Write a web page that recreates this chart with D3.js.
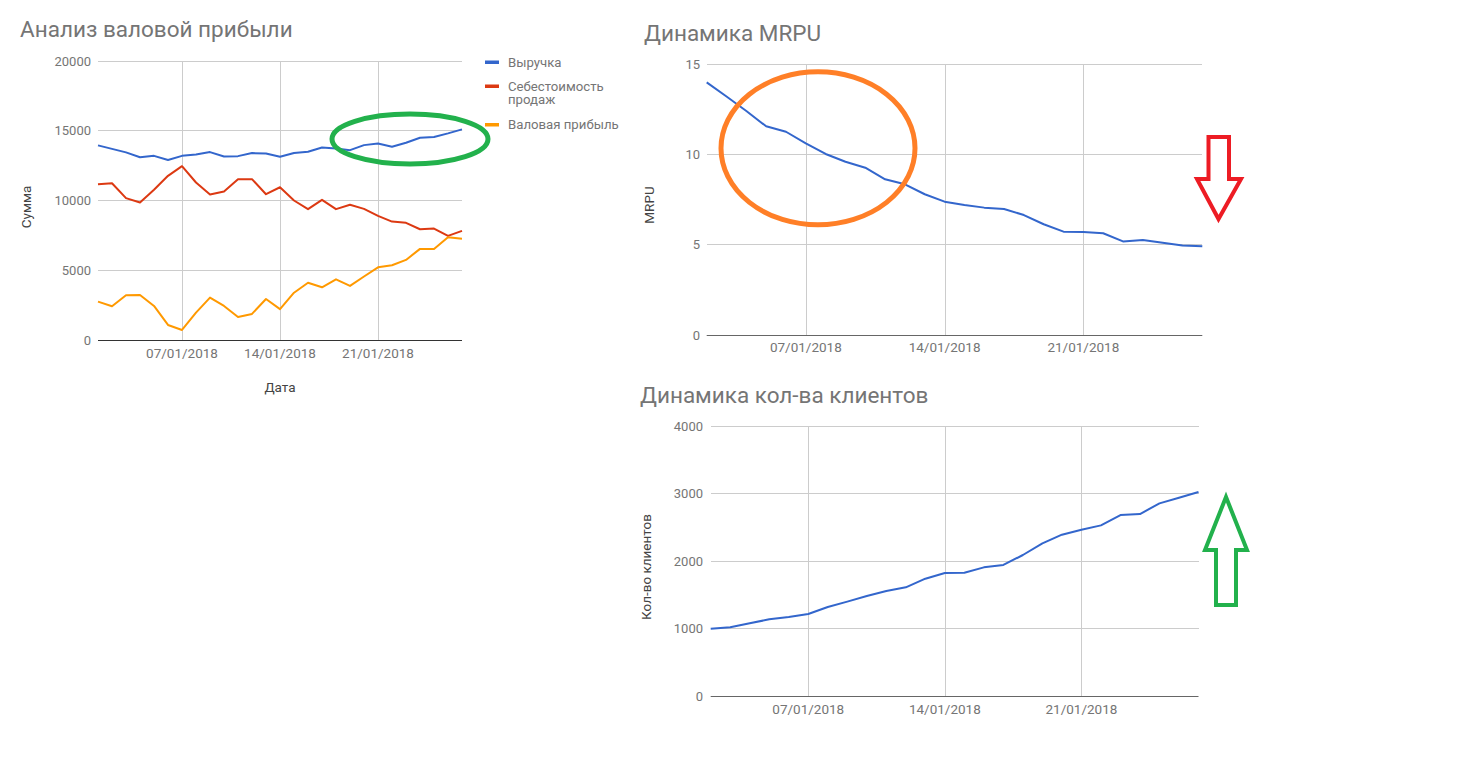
<!DOCTYPE html>
<html><head><meta charset="utf-8">
<script src="https://cdn.jsdelivr.net/npm/d3@7"></script>
<style>
body{margin:0;background:#fff;}
svg{display:block;font-family:Roboto,"Noto Sans",sans-serif;}
</style></head><body>
<svg id="c" width="1467" height="772"></svg>
<script>
// ---------- DATA ----------
const datesProfit = ["2018-01-01","2018-01-02","2018-01-03","2018-01-04","2018-01-05","2018-01-06","2018-01-07","2018-01-08","2018-01-09","2018-01-10","2018-01-11","2018-01-12","2018-01-13","2018-01-14","2018-01-15","2018-01-16","2018-01-17","2018-01-18","2018-01-19","2018-01-20","2018-01-21","2018-01-22","2018-01-23","2018-01-24","2018-01-25","2018-01-26","2018-01-27"];
const revenue = [13950,13700,13450,13100,13200,12900,13200,13300,13470,13150,13180,13400,13370,13130,13400,13490,13800,13730,13610,13970,14090,13850,14140,14500,14550,14810,15100];
const costOfSales = [11170,11240,10170,9860,10770,11770,12460,11290,10430,10650,11530,11530,10450,10950,10000,9380,10050,9380,9690,9400,8900,8490,8400,7940,7990,7460,7820];
const grossProfit = [2750,2420,3210,3230,2440,1080,720,1960,3040,2440,1650,1870,2940,2210,3390,4100,3780,4350,3880,4550,5210,5360,5740,6530,6530,7370,7250];
const seriesNames = ["Выручка","Себестоимость продаж","Валовая прибыль"];

const datesMetrics = datesProfit.slice(1);
const mrpu = [13.98,13.2,12.4,11.55,11.25,10.61,10.02,9.59,9.26,8.62,8.34,7.79,7.38,7.20,7.05,6.97,6.64,6.13,5.72,5.70,5.63,5.18,5.26,5.11,4.96,4.91];
const clients = [995,1017,1077,1136,1170,1215,1319,1398,1481,1556,1610,1738,1822,1827,1906,1941,2089,2262,2390,2464,2528,2681,2696,2854,2938,3022];

const xTickDates = ["2018-01-07","2018-01-14","2018-01-21"];
const yTicksProfit = [0,5000,10000,15000,20000];
const yTicksMrpu = [0,5,10,15];
const yTicksClients = [0,1000,2000,3000,4000];

// ---------- SETUP ----------
const parse = d3.utcParse("%Y-%m-%d");
const fmt = d3.utcFormat("%d/%m/%Y");
const svg = d3.select("#c");
const colors = ["#3366cc","#dc3912","#ff9900"];
const tickColor = "#757575", titleColor = "#757575", axisTitleColor = "#444";

function chart(o){
  const g = svg.append("g");
  const x = d3.scaleUtc().domain(d3.extent(o.dates, parse)).range([o.x0, o.x1]);
  const y = d3.scaleLinear().domain([0, d3.max(o.yTicks)]).range([o.y0, o.y1]);
  g.append("g").selectAll("line").data(o.yTicks.filter(v=>v!==0)).join("line")
    .attr("x1",o.x0).attr("x2",o.x1).attr("y1",d=>y(d)).attr("y2",d=>y(d))
    .attr("stroke","#cccccc").attr("stroke-width",1).attr("shape-rendering","crispEdges");
  g.append("g").selectAll("line").data(xTickDates.map(parse)).join("line")
    .attr("x1",d=>Math.round(x(d))+0.5).attr("x2",d=>Math.round(x(d))+0.5).attr("y1",o.y1).attr("y2",o.y0)
    .attr("stroke","#cccccc").attr("stroke-width",1);
  g.append("g").selectAll("text").data(o.yTicks).join("text")
    .attr("x",o.yLabelX).attr("y",d=>y(d)).attr("dy","0.35em").attr("text-anchor","end")
    .attr("font-size",13).attr("fill",tickColor).text(d=>d);
  g.append("g").selectAll("text").data(xTickDates.map(parse)).join("text")
    .attr("x",d=>x(d)).attr("y",o.xLabelY).attr("text-anchor","middle")
    .attr("font-size",13.5).attr("fill",tickColor).text(d=>fmt(d));
  const line = d3.line().x((d,i)=>x(parse(o.dates[i]))).y(d=>y(d));
  o.series.forEach((s,i)=>{
    g.append("path").datum(s).attr("d",line).attr("fill","none")
      .attr("stroke",colors[i]).attr("stroke-width",2).attr("stroke-linejoin","round");
  });
  g.append("line").attr("x1",o.x0).attr("x2",o.x1).attr("y1",Math.round(y(0))+0.5).attr("y2",Math.round(y(0))+0.5)
    .attr("stroke",o.baseColor||"#333").attr("stroke-width",1);
  g.append("text").attr("x",o.titleX).attr("y",o.titleY).attr("font-size",22.5).attr("fill",titleColor).text(o.title);
  g.append("text").attr("transform",`translate(${o.yTitleX},${o.yTitleY}) rotate(-90)`)
    .attr("text-anchor","middle").attr("font-size",13.5).attr("fill",axisTitleColor).text(o.yTitle);
  if(o.xTitle){
    g.append("text").attr("x",(o.x0+o.x1)/2).attr("y",o.xTitleY).attr("text-anchor","middle")
      .attr("font-size",13.5).attr("fill",axisTitleColor).text(o.xTitle);
  }
  return g;
}

chart({dates:datesProfit, series:[revenue,costOfSales,grossProfit], yTicks:yTicksProfit,
  x0:98,x1:462,y0:340,y1:61, yLabelX:91, xLabelY:358, title:"Анализ валовой прибыли", titleX:20, titleY:37,
  yTitle:"Сумма", yTitleX:31, yTitleY:207, xTitle:"Дата", xTitleY:392, baseColor:"#333"});

chart({dates:datesMetrics, series:[mrpu], yTicks:yTicksMrpu,
  x0:706.7,x1:1202.3,y0:335,y1:64, yLabelX:700, xLabelY:352, title:"Динамика MRPU", titleX:644, titleY:41,
  yTitle:"MRPU", yTitleX:654, yTitleY:205, baseColor:"#666"});

chart({dates:datesMetrics, series:[clients], yTicks:yTicksClients,
  x0:710.7,x1:1198.5,y0:696,y1:426, yLabelX:703, xLabelY:714, title:"Динамика кол-ва клиентов", titleX:640, titleY:403,
  yTitle:"Кол-во клиентов", yTitleX:651, yTitleY:567, baseColor:"#666"});

// legend
const legendItems = [{name:["Выручка"],y:62},{name:["Себестоимость","продаж"],y:86},{name:["Валовая прибыль"],y:124.5}];
const lg = svg.append("g");
legendItems.forEach((it,i)=>{
  lg.append("rect").attr("x",485).attr("y",it.y-1.5).attr("width",14).attr("height",3.5).attr("fill",colors[i]);
  const t = lg.append("text").attr("x",508).attr("y",it.y+4.5).attr("font-size",13.2).attr("fill",tickColor);
  it.name.forEach((n,j)=>t.append("tspan").attr("x",508).attr("dy",j?13:0).text(n));
});

// annotations
svg.append("ellipse").attr("cx",410).attr("cy",139).attr("rx",78).attr("ry",25)
  .attr("fill","none").attr("stroke","#22b14c").attr("stroke-width",5);
svg.append("ellipse").attr("cx",818).attr("cy",148.3).attr("rx",97).attr("ry",76.5)
  .attr("fill","none").attr("stroke","#ff7f27").attr("stroke-width",5);
svg.append("polygon").attr("points","1208.5,137 1229,137 1229,179 1241,179 1218.5,219 1197,179 1208.5,179")
  .attr("fill","none").attr("stroke","#ed1c24").attr("stroke-width",4);
svg.append("polygon").attr("points","1226,497 1247,550 1236,550 1236,605 1216,605 1216,550 1205,550")
  .attr("fill","none").attr("stroke","#22b14c").attr("stroke-width",4);
</script></body></html>
